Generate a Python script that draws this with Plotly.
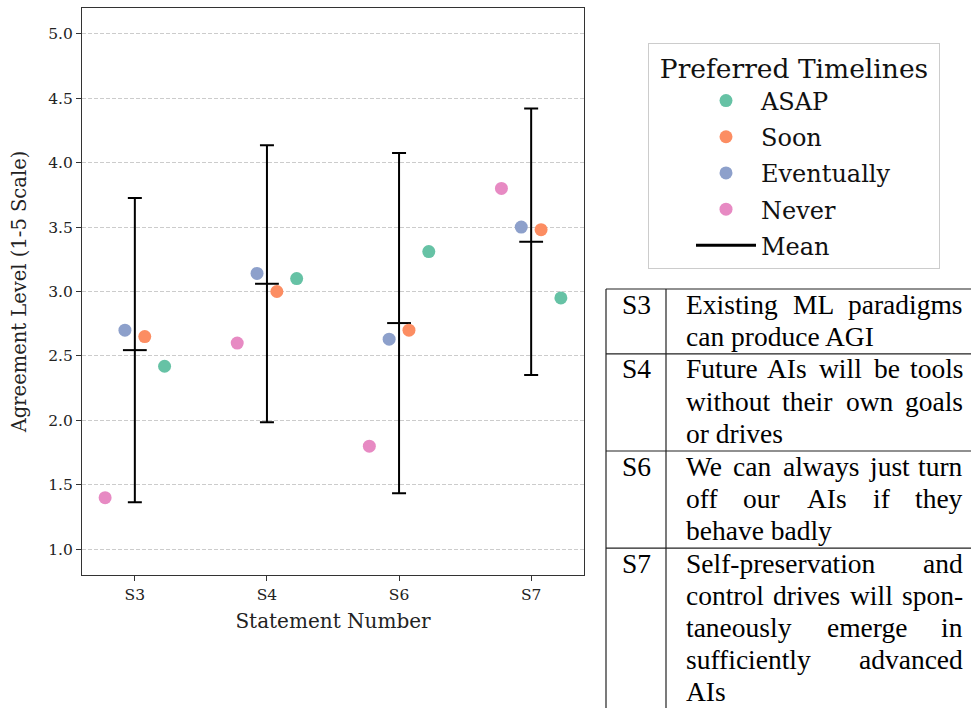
import plotly.graph_objects as go

# ---------------- data ----------------
statements = ["S3", "S4", "S6", "S7"]
groups = ["ASAP", "Soon", "Eventually", "Never"]
asap_vals = [2.42, 3.10, 3.31, 2.95]
soon_vals = [2.65, 3.00, 2.70, 3.48]
eventually_vals = [2.70, 3.14, 2.63, 3.50]
never_vals = [1.40, 2.60, 1.80, 3.80]
mean_vals = [2.545, 3.06, 2.755, 3.386]
std_vals = [1.18, 1.074, 1.32, 1.034]
y_ticks = [1.0, 1.5, 2.0, 2.5, 3.0, 3.5, 4.0, 4.5, 5.0]
statement_lines = [
    ["Existing ML paradigms", "can produce AGI"],
    ["Future AIs will be tools", "without their own goals", "or drives"],
    ["We can always just turn", "off our AIs if they", "behave badly"],
    ["Self-preservation and", "control drives will spon-", "taneously emerge in",
     "sufficiently advanced", "AIs"],
]

# ---------------- style ----------------
colors = {"ASAP": "#66c2a5", "Soon": "#fc8d62", "Eventually": "#8da0cb", "Never": "#e78ac3"}
offsets = {"ASAP": 0.225, "Soon": 0.075, "Eventually": -0.075, "Never": -0.225}
series = {"ASAP": asap_vals, "Soon": soon_vals, "Eventually": eventually_vals, "Never": never_vals}
SERIF = "DejaVu Serif"
TFONT = "Liberation Serif"

W, H = 971, 708
ML, MR, MT, MB = 82, 387, 8, 133
PW, PH = W - ML - MR, H - MT - MB


def px_x(px):
    return (px - ML) / PW


def px_y(py):
    return (H - MB - py) / PH


fig = go.Figure()

# mean with std error bars
fig.add_trace(go.Scatter(
    x=list(range(len(statements))), y=mean_vals, mode="markers",
    marker=dict(symbol="line-ew", size=17, color="black", line=dict(width=2, color="black")),
    error_y=dict(type="data", array=std_vals, visible=True, color="black", thickness=2, width=7),
    showlegend=False, hoverinfo="skip"))

for g in groups:
    fig.add_trace(go.Scatter(
        x=[i + offsets[g] for i in range(len(statements))], y=series[g], mode="markers",
        name=g, legendgroup=g,
        marker=dict(size=13, color=colors[g], line=dict(width=0))))

fig.add_trace(go.Scatter(x=[None], y=[None], mode="lines", name="Mean", legendgroup="Mean",
                         line=dict(color="black", width=3)))

# ---------------- table ----------------
TW = {' ': 250, '-': 333, 'A': 722, 'G': 722, 'I': 333, 'L': 611, 'M': 889, 'E': 611,
      'F': 556, 'S': 556, 'W': 944, 'a': 444, 'b': 500, 'c': 444, 'd': 500, 'e': 444,
      'f': 333, 'g': 500, 'h': 500, 'i': 278, 'j': 278, 'k': 500, 'l': 278, 'm': 778,
      'n': 500, 'o': 500, 'p': 500, 'q': 500, 'r': 333, 's': 389, 't': 278, 'u': 500,
      'v': 500, 'w': 722, 'x': 500, 'y': 500, 'z': 444}
FS = 27.5


def wpx(s):
    return sum(TW.get(c, 500) for c in s) / 1000.0 * FS


tab_left, col_sep, tab_right = 606, 666, 980
txt_left, txt_right = 684, 965
line_h = 32.2
row_top = 289
line_col = "#222"

shapes = []
annotations = []


def hline(py):
    shapes.append(dict(type="line", xref="paper", yref="paper", x0=px_x(tab_left), x1=px_x(tab_right),
                       y0=px_y(py), y1=px_y(py), line=dict(color=line_col, width=1.2)))


hline(row_top)
for k, (sid, lines) in enumerate(zip(statements, statement_lines)):
    annotations.append(dict(xref="paper", yref="paper", x=px_x((tab_left + col_sep) / 2),
                            y=px_y(row_top + 15), text=sid, showarrow=False,
                            xanchor="center", yanchor="middle",
                            font=dict(family=TFONT, size=FS, color="black")))
    for li, line in enumerate(lines):
        cy = px_y(row_top + 15 + li * line_h)
        words = line.split(" ")
        last = li == len(lines) - 1
        if last or len(words) == 1:
            annotations.append(dict(xref="paper", yref="paper", x=px_x(txt_left), y=cy, text=line,
                                    showarrow=False, xanchor="left", yanchor="middle",
                                    font=dict(family=TFONT, size=FS, color="black")))
        else:
            widths = [wpx(w) for w in words]
            gap = (txt_right - txt_left - sum(widths)) / (len(words) - 1)
            xpos = txt_left
            for wi, (word, ww) in enumerate(zip(words, widths)):
                if wi == 0:
                    xa, xx = "left", txt_left
                elif wi == len(words) - 1:
                    xa, xx = "right", txt_right
                else:
                    xa, xx = "center", xpos + ww / 2
                annotations.append(dict(xref="paper", yref="paper", x=px_x(xx), y=cy, text=word,
                                        showarrow=False, xanchor=xa, yanchor="middle",
                                        font=dict(family=TFONT, size=FS, color="black")))
                xpos += ww + gap
    row_top += line_h * len(lines) + 0.5
    if k < len(statements) - 1:
        hline(row_top)

for vx in (tab_left, col_sep):
    shapes.append(dict(type="line", xref="paper", yref="paper", x0=px_x(vx), x1=px_x(vx),
                       y0=px_y(289), y1=px_y(H + 20), line=dict(color=line_col, width=1.2)))

fig.update_layout(
    width=W, height=H,
    margin=dict(l=ML, r=MR, t=MT, b=MB, autoexpand=False),
    plot_bgcolor="white", paper_bgcolor="white",
    font=dict(family=SERIF, color="#222"),
    showlegend=True,
    legend=dict(
        x=px_x(648), y=px_y(43), xanchor="left", yanchor="top",
        bgcolor="white", bordercolor="#cccccc", borderwidth=1,
        font=dict(family=SERIF, size=24, color="#111"),
        title=dict(text="&nbsp;Preferred Timelines&nbsp;", side="top center",
                   font=dict(family=SERIF, size=26.5, color="#111")),
        traceorder="grouped", tracegroupgap=2, itemwidth=60, indentation=42,
    ),
    shapes=shapes,
    annotations=annotations,
)

fig.update_xaxes(
    range=[-0.4, 3.4], tickmode="array", tickvals=list(range(len(statements))), ticktext=statements,
    showgrid=False, zeroline=False, showline=True, mirror=True, linecolor="#333", linewidth=1.2,
    ticks="outside", ticklen=5, tickcolor="#333", tickfont=dict(family=SERIF, size=15.5, color="#222"),
    title=dict(text="Statement Number", font=dict(family=SERIF, size=20, color="#222"), standoff=11),
)
fig.update_yaxes(
    range=[0.8, 5.2], tickmode="array", tickvals=y_ticks, ticktext=[f"{v:.1f}" for v in y_ticks],
    showgrid=True, gridcolor="#cccccc", griddash="4px,2px", gridwidth=1,
    zeroline=False, showline=True, mirror=True, linecolor="#333", linewidth=1.2,
    ticks="outside", ticklen=5, tickcolor="#333", tickfont=dict(family=SERIF, size=15.5, color="#222"),
    title=dict(text="Agreement Level (1-5 Scale)", font=dict(family=SERIF, size=19.5, color="#222"), standoff=16),
)

fig.write_html("out.html", config={"displayModeBar": False},
               post_script="document.body.style.margin='0';document.body.style.overflow='hidden';")
